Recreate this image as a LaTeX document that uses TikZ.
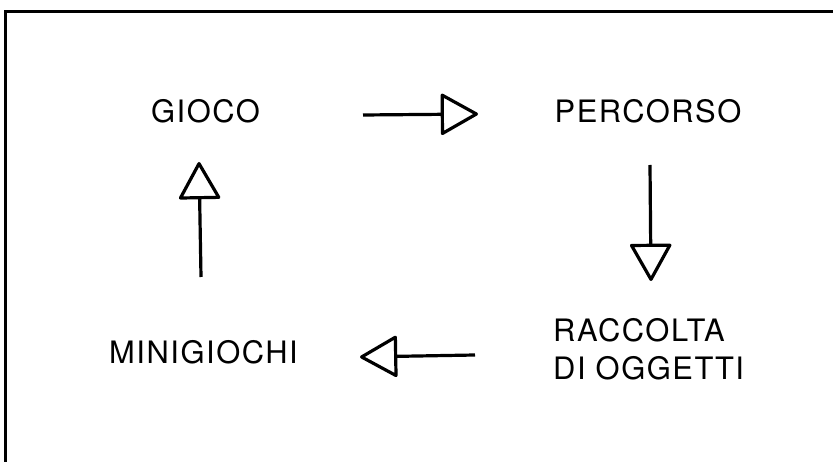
\documentclass[tikz,border=0pt]{standalone}
\usepackage{fontspec}
\setmainfont{TeX Gyre Heros}[LetterSpace=5]
\usetikzlibrary{arrows.meta}
\begin{document}
\begin{tikzpicture}[x=1bp,y=-1bp,
  label text/.style={inner sep=0pt, font=\fontsize{31}{38}\selectfont},
  frame line/.style={line width=3bp, line cap=rect},
  flow arrow/.style={line width=3.2bp, line join=round,
    -{Triangle[open, length=39bp, width=43bp, line join=round]}}]
  \useasboundingbox (0,0) rectangle (833,462);

  % open frame: top and left edges only
  \draw[frame line] (833,11.5) -- (5.5,11.5) -- (5.5,462);

  % stages of the cycle
  \node[label text] (gioco) at (205.5,111.5) {GIOCO};
  \node[label text] (percorso) at (648,111.5) {PERCORSO};
  \node[label text, anchor=west, align=left] (raccolta) at (553,349) {RACCOLTA\\DI OGGETTI};
  \node[label text] (minigiochi) at (203.5,352.5) {MINIGIOCHI};

  % arrow end points
  \coordinate (a1s) at (363,115);   \coordinate (a1e) at (478,114);
  \coordinate (a2s) at (650,165);   \coordinate (a2e) at (651,281);
  \coordinate (a3s) at (475,355);   \coordinate (a3e) at (360,357);
  \coordinate (a4s) at (201,277);   \coordinate (a4e) at (199,162);

  \draw[flow arrow] (a1s) -- (a1e);
  \draw[flow arrow] (a2s) -- (a2e);
  \draw[flow arrow] (a3s) -- (a3e);
  \draw[flow arrow] (a4s) -- (a4e);
\end{tikzpicture}
\end{document}
